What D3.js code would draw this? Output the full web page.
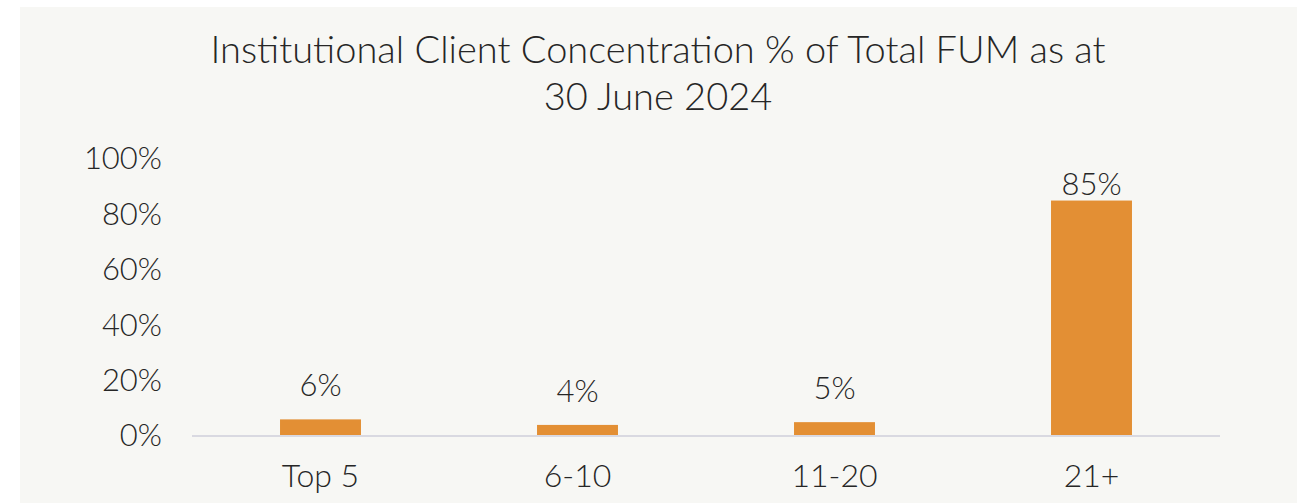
<!DOCTYPE html>
<html>
<head>
<meta charset="utf-8">
<script src="https://cdn.jsdelivr.net/npm/d3@7"></script>
<style>
    body { margin: 0; background: #ffffff; }
    svg text { font-family: "Lato", "Open Sans", sans-serif; font-weight: 300; fill: #262626; }
</style>
</head>
<body>
<div id="chart"></div>
<script>
// Chart data
const categories = ["Top 5", "6-10", "11-20", "21+"];
const values = [6, 4, 5, 85];
const yTicks = [0, 20, 40, 60, 80, 100];
const titleLines = ["Institutional Client Concentration % of Total FUM as at", "30 June 2024"];

const width = 1310, height = 503;

const svg = d3.select("#chart").append("svg")
    .attr("width", width)
    .attr("height", height);

// panel background
svg.append("rect")
    .attr("x", 20)
    .attr("y", 7)
    .attr("width", 1277)
    .attr("height", height - 7)
    .attr("fill", "#f7f7f4");

// title
svg.selectAll(".title")
    .data(titleLines)
    .enter().append("text")
    .attr("class", "title")
    .attr("x", 658)
    .attr("y", (d, i) => 63 + i * 47)
    .attr("text-anchor", "middle")
    .style("font-size", "38px")
    .text(d => d);

const x = d3.scaleBand()
    .domain(categories)
    .range([192, 1220])
    .paddingInner(0.685)
    .paddingOuter(0.3425);

const y = d3.scaleLinear()
    .domain([0, 100])
    .range([436, 159]);

// y axis labels (no line, no ticks)
const yAxis = svg.append("g")
    .attr("transform", "translate(162,0)")
    .call(d3.axisLeft(y).tickValues(yTicks).tickFormat(d => d + "%").tickSize(0).tickPadding(0));
yAxis.select(".domain").remove();
yAxis.selectAll("text")
    .style("font-size", "31px")
    .style("font-family", null)
    .attr("fill", null);

// bars
svg.selectAll(".bar")
    .data(values)
    .enter().append("rect")
    .attr("class", "bar")
    .attr("x", (d, i) => x(categories[i]))
    .attr("y", d => y(d))
    .attr("width", x.bandwidth())
    .attr("height", d => y(0) - y(d))
    .attr("fill", "#e38f34");

// baseline
svg.append("line")
    .attr("x1", 192)
    .attr("x2", 1220)
    .attr("y1", y(0))
    .attr("y2", y(0))
    .attr("stroke", "#d9d9e1")
    .attr("stroke-width", 2);

// x axis labels
const xAxis = svg.append("g")
    .attr("transform", `translate(0,${y(0)})`)
    .call(d3.axisBottom(x).tickSize(0).tickPadding(0));
xAxis.select(".domain").remove();
xAxis.selectAll("text")
    .attr("dy", null)
    .attr("y", 51)
    .style("font-size", "32px")
    .style("font-family", null)
    .attr("fill", null);

// value labels
svg.selectAll(".val")
    .data(values)
    .enter().append("text")
    .attr("class", "val")
    .attr("x", (d, i) => x(categories[i]) + x.bandwidth() / 2)
    .attr("y", d => Math.max(y(d) - 23, 195))
    .attr("text-anchor", "middle")
    .style("font-size", "31px")
    .text(d => d + "%");
</script>
</body>
</html>
